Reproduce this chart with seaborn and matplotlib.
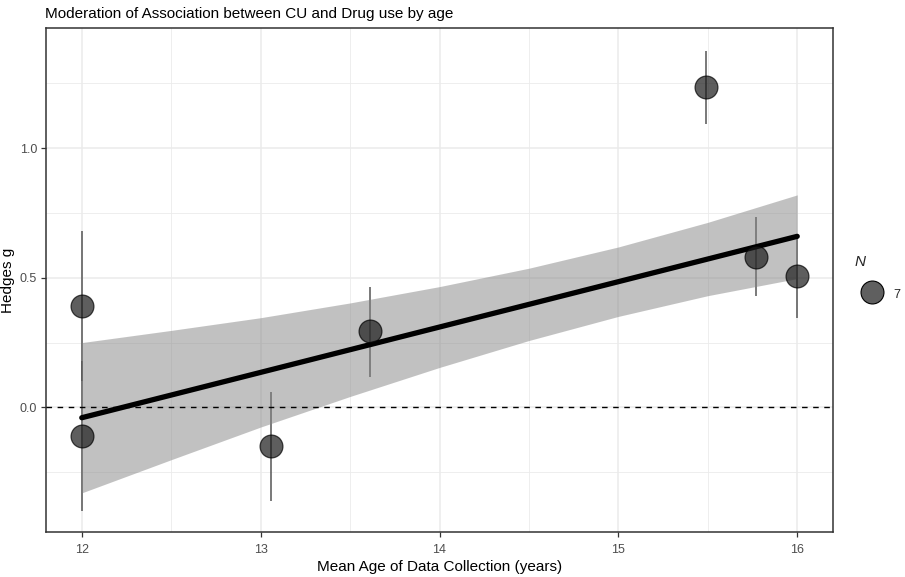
import numpy as np
import pandas as pd
import matplotlib
matplotlib.use("Agg")
import matplotlib.pyplot as plt
from matplotlib.lines import Line2D
from matplotlib.ticker import MultipleLocator
import seaborn as sns

# %%--  Data
age = [12.0, 12.0, 13.06, 13.61, 15.49, 15.77, 16.0]
hedges_g = [0.39, -0.11, -0.15, 0.295, 1.235, 0.58, 0.507]
ci_low = [0.10, -0.40, -0.362, 0.117, 1.094, 0.43, 0.344]
ci_high = [0.68, 0.18, 0.058, 0.465, 1.376, 0.733, 0.67]

fit_x = [12.0, 16.0]
fit_y = [-0.04, 0.66]

band_x = [12.0, 12.5, 13.0, 13.5, 14.0, 14.5, 15.0, 15.5, 16.0]
band_lo = [-0.33, -0.202, -0.076, 0.042, 0.154, 0.258, 0.351, 0.431, 0.497]
band_hi = [0.25, 0.297, 0.346, 0.403, 0.466, 0.537, 0.619, 0.714, 0.82]

n_label = "7"
# %%-

df = pd.DataFrame({"age": age, "g": hedges_g, "lo": ci_low, "hi": ci_high})
fit_df = pd.DataFrame({"age": fit_x, "g": fit_y})

sns.set_theme(style="white")
plt.rcParams["font.family"] = ["Liberation Sans", "DejaVu Sans"]

fig = plt.figure(figsize=(9.05, 5.77), dpi=100)
ax = fig.add_axes([46 / 905, 1 - 532 / 577, (833 - 46) / 905, (532 - 28) / 577])

#   Grid (theme_bw look)
ax.set_axisbelow(True)
ax.xaxis.set_major_locator(MultipleLocator(1))
ax.xaxis.set_minor_locator(MultipleLocator(0.5))
ax.yaxis.set_major_locator(MultipleLocator(0.5))
ax.yaxis.set_minor_locator(MultipleLocator(0.25))
ax.grid(which="major", color="#ebebeb", lw=1.1)
ax.grid(which="minor", color="#ebebeb", lw=0.6)

#   Error bars, band, fit line, points
ax.vlines(df["age"], df["lo"], df["hi"], color="#555555", lw=1.1, zorder=2)
ax.fill_between(band_x, band_lo, band_hi, color="#858585", alpha=0.5, lw=0, zorder=3)
ax.axhline(0, color="black", lw=1.0, ls=(0, (4, 4)), zorder=3)
sns.lineplot(data=fit_df, x="age", y="g", color="black", lw=3.8, ax=ax, zorder=4)
sns.scatterplot(data=df, x="age", y="g", s=270, color="#1a1a1a", alpha=0.7,
                edgecolor="black", linewidth=0.9, ax=ax, zorder=5, legend=False)

ax.set_xlim(11.8, 16.2)
ax.set_ylim(-0.481, 1.464)

for side in ax.spines.values():
    side.set_color("#333333")
    side.set_linewidth(1.1)
ax.tick_params(which="major", length=3.5, width=0.9, color="#333333",
               labelsize=9, labelcolor="#4d4d4d", bottom=True, left=True, pad=3)
ax.tick_params(axis="x", which="major", pad=5)
ax.tick_params(which="minor", length=0)

ax.set_xlabel("Mean Age of Data Collection (years)", fontsize=11, color="black", labelpad=3)
ax.set_ylabel("Hedges g", fontsize=11, color="black", labelpad=3)
ax.set_title("Moderation of Association between CU and Drug use by age",
             loc="left", fontsize=11, color="black", pad=7.5, x=-0.001)

#   Legend for N (drawn by hand to place title and key like ggplot)
fig.text(855 / 905, 1 - 262 / 577, "N", fontsize=11, fontstyle="italic",
         ha="left", va="center")
key = Line2D([872 / 905], [1 - 292 / 577], transform=fig.transFigure, marker="o",
             ls="", markersize=16.5, markerfacecolor="#5f5f5f",
             markeredgecolor="black", markeredgewidth=0.8)
fig.add_artist(key)
fig.text(893 / 905, 1 - 295 / 577, n_label, fontsize=9, ha="left", va="center")

plt.savefig("out.png", dpi=100)
